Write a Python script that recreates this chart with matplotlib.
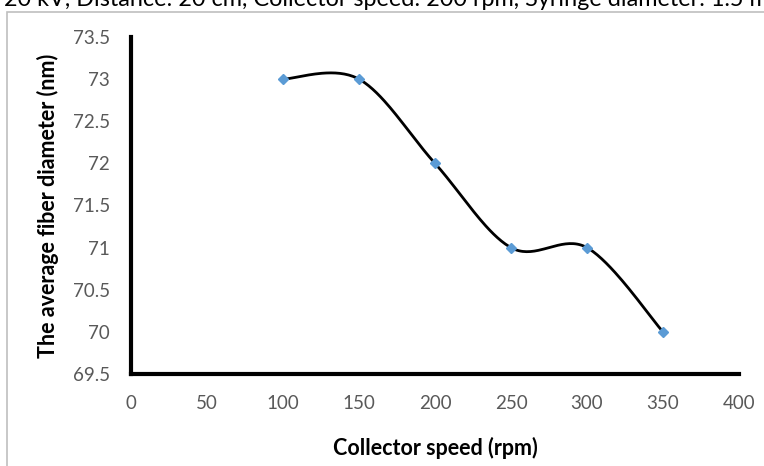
import numpy as np
import matplotlib
matplotlib.use("Agg")
from matplotlib import pyplot as plt
from matplotlib.patches import Rectangle

# data
speed = [100, 150, 200, 250, 300, 350]
diameter = [73, 73, 72, 71, 71, 70]
x_ticks = [0, 50, 100, 150, 200, 250, 300, 350, 400]
y_ticks = [69.5, 70, 70.5, 71, 71.5, 72, 72.5, 73, 73.5]
y_tick_labels = ["69.5", "70", "70.5", "71", "71.5", "72", "72.5", "73", "73.5"]
caption = "20 kV, Distance: 20 cm, Collector speed: 200 rpm, Syringe diameter: 1.5 mm"


def smooth(xs, ys, n=40):
    '''
    Excel-style smoothed line (Catmull-Rom through the points)
    '''
    p = np.column_stack([xs, ys]).astype(float)
    p = np.vstack([p[0], p, p[-1]])
    out = []
    t = np.linspace(0, 1, n)[:, None]
    for i in range(1, len(p) - 2):
        p0, p1, p2, p3 = p[i - 1], p[i], p[i + 1], p[i + 2]
        c1 = p1 + (p2 - p0) / 6
        c2 = p2 - (p3 - p1) / 6
        seg = ((1 - t) ** 3) * p1 + 3 * ((1 - t) ** 2) * t * c1 \
            + 3 * (1 - t) * t ** 2 * c2 + t ** 3 * p2
        out.append(seg)
    out = np.vstack(out)
    return out[:, 0], out[:, 1]


plt.rcParams["font.family"] = ["Lato", "DejaVu Sans"]

fig = plt.figure(figsize=(7.64, 4.66), dpi=100)
W, H = 764, 466

# chart frame (runs off the right and bottom edge)
fig.patches.append(Rectangle((7 / W, -0.1), 1.2, 1 - 12 / H + 0.1,
                             transform=fig.transFigure, fill=False,
                             edgecolor="#bfbfbf", linewidth=1.2))

# caption above the chart, cut by the top edge like in the source
fig.text(4 / W, 1 - 6 / H, caption,
         fontsize=16.8, color="black", va="baseline", ha="left")

ax = fig.add_axes([131 / W, 1 - 374 / H, (739 - 131) / W, (374 - 37) / H])

sx, sy = smooth(speed, diameter)
ax.plot(sx, sy, color="black", linewidth=2, zorder=2)
ax.plot(speed, diameter, linestyle="none", marker="D", markersize=5.5,
        color="#5b9bd5", zorder=3)

ax.set_xlim(0, 400)
ax.set_ylim(69.5, 73.5)
ax.set_xticks(x_ticks)
ax.set_yticks(y_ticks)
ax.set_yticklabels(y_tick_labels)
ax.tick_params(length=0, labelsize=13.5, colors="#595959")
ax.tick_params(axis="x", pad=15)
ax.tick_params(axis="y", pad=15)

for s in ["top", "right"]:
    ax.spines[s].set_visible(False)
for s in ["left", "bottom"]:
    ax.spines[s].set_linewidth(3)
    ax.spines[s].set_color("black")

ax.set_xlabel("Collector speed (rpm)", fontsize=15.5, fontweight="bold", labelpad=18)
ax.set_ylabel("The average fiber diameter (nm)", fontsize=15.5, fontweight="bold", labelpad=10)

fig.savefig("out.png", dpi=100)
